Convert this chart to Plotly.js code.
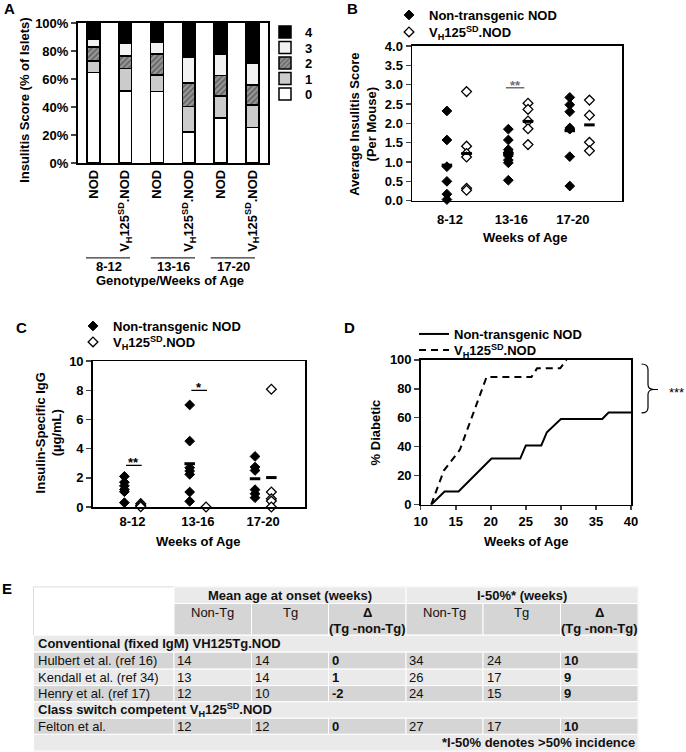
<!DOCTYPE html>
<html><head><meta charset="utf-8">
<script src="https://cdn.plot.ly/plotly-3.0.1.min.js"></script>
<style>html,body{margin:0;padding:0;background:#fff}#chart{width:686px;height:752px}</style>
</head><body><div id="chart"></div>
<script>
// ================= DATA =================
const ageGroups = ["8-12", "13-16", "17-20"];
const seriesNames = ["Non-transgenic NOD", "V<sub>H</sub>125<sup>SD</sup>.NOD"];

// Panel A: insulitis score distribution (% of islets), stacked 0..4
const aBarLabels = ["NOD", "V<sub>H</sub>125<sup>SD</sup>.NOD", "NOD", "V<sub>H</sub>125<sup>SD</sup>.NOD", "NOD", "V<sub>H</sub>125<sup>SD</sup>.NOD"];
const scoreNames = ["0", "1", "2", "3", "4"];
const score0 = [64.5, 51.3, 51.0, 22.3, 32.3, 25.3];
const score1 = [8.2, 16.2, 12.0, 18.2, 15.7, 16.0];
const score2 = [10.0, 8.8, 15.0, 16.8, 14.6, 14.5];
const score3 = [6.0, 9.0, 7.9, 17.9, 14.8, 15.1];
const score4 = [11.3, 14.7, 14.1, 24.8, 22.6, 29.1];

// Panel B: average insulitis score per mouse
const bNonTg = [[2.32, 1.57, 0.88, 0.50, 0.17, 0.03],
                [1.85, 1.57, 1.32, 1.25, 1.16, 1.05, 0.98, 0.53],
                [2.67, 2.48, 2.30, 1.88, 1.85, 1.14, 0.38]];
const bVH    = [[2.82, 1.41, 1.22, 1.13, 0.32, 0.27],
                [2.52, 2.36, 2.06, 1.86, 1.45],
                [2.60, 2.21, 1.51, 1.29]];
const bMeanNonTg = [0.92, 1.22, 1.81];
const bMeanVH    = [1.22, 2.05, 1.96];

// Panel C: insulin-specific IgG (ug/mL)
const cNonTg = [[2.10, 1.70, 1.45, 1.20, 1.05, 0.30],
                [7.00, 4.52, 2.69, 2.47, 2.24, 1.03, 0.39],
                [3.47, 2.74, 2.51, 1.19, 0.91, 0.64]];
const cVH    = [[0.23, 0.11, 0.02],
                [0.00],
                [8.08, 1.03, 0.57, 0.41, 0.00]];
const cMeanNonTg = [null, 2.97, 1.94];
const cMeanVH    = [null, null, 2.02];

// Panel D: cumulative % diabetic
const dWeeksNonTg = [11.5, 13.4, 15.4, 20.1, 24.2, 25.0, 27.2, 28.0, 30.0, 35.9, 36.8, 40.0];
const dPctNonTg   = [0, 9.1, 9.1, 31.8, 31.8, 40.9, 40.9, 50.0, 59.1, 59.1, 63.6, 63.6];
const dWeeksVH    = [11.5, 13.3, 15.6, 19.4, 25.8, 26.6, 29.9, 30.8];
const dPctVH      = [0, 23.5, 38.0, 88.2, 88.2, 94.1, 94.1, 100];

// Significance marks
const sigB = [{group: 2, y: 2.92, text: "**"}];
const sigC = [{group: 1, y: 2.85, text: "**"}, {group: 2, y: 8.0, text: "*"}];

// Panel E: table
const tGroupHeaders = ["Mean age at onset (weeks)", "I-50%* (weeks)"];
const tSubHeaders = ["Non-Tg", "Tg", "Δ", "Non-Tg", "Tg", "Δ"];
const tDeltaNote = "(Tg -non-Tg)";
const tSections = ["Conventional (fixed IgM) VH125Tg.NOD", "Class switch competent V<sub>H</sub>125<sup>SD</sup>.NOD"];
const studies     = ["Hulbert et al. (ref 16)", "Kendall et al. (ref 34)", "Henry et al. (ref 17)", "Felton et al."];
const onsetNonTg  = [14, 13, 12, 12];
const onsetTg     = [14, 14, 10, 12];
const onsetDelta  = [0, 1, -2, 0];
const i50NonTg    = [34, 26, 24, 27];
const i50Tg       = [24, 17, 15, 17];
const i50Delta    = [10, 9, 9, 10];
const tFootnote = "*I-50% denotes >50% incidence";

// ================= HELPERS =================
const W = 686, H = 752;
const FONT = "Liberation Sans, Arial, Helvetica, sans-serif";
const px = v => v / W;
const py = v => 1 - v / H;
const annotations = [];
const shapes = [];
function ann(text, x, y, o = {}) {
  annotations.push(Object.assign({
    text, x: px(x), y: py(y), xref: 'paper', yref: 'paper', showarrow: false,
    xanchor: 'center', yanchor: 'middle',
    font: {family: FONT, size: 13, color: '#000', weight: o.bold === false ? 'normal' : 'bold'}
  }, o.extra || {}));
}
const legends = {};
let legendCount = 0;
// one legend per entry so that each entry can sit exactly where the reference has it
function legendAt(symbolCenterX, centerY, off) {
  legendCount += 1;
  const key = legendCount === 1 ? 'legend' : 'legend' + legendCount;
  legends[key] = {x: px(symbolCenterX - 20), y: py(centerY - (off || 15)), xanchor: 'left', yanchor: 'top',
    bgcolor: 'rgba(0,0,0,0)', font: {family: FONT, size: 13, weight: 'bold', color: '#000'}, itemwidth: 30};
  return key;
}

// ================= TRACES =================
const traces = [];
const scoreColor = ['#ffffff', '#cbcbcb', '#8f8f8f', '#f2f2f2', '#000000'];
const aScores = [score0, score1, score2, score3, score4];
const aLegendY = [92, 76.5, 61, 45.5, 30];
aScores.forEach((vals, i) => {
  const marker = {color: scoreColor[i], line: {color: '#000', width: 1.5}};
  if (i === 2) marker.pattern = {shape: '/', fgcolor: '#5a5a5a', bgcolor: '#959595', size: 4, solidity: 0.35};
  traces.push({type: 'bar', x: aBarLabels.map((_, k) => k), y: vals, name: scoreNames[i],
    width: 0.4, marker, xaxis: 'x', yaxis: 'y', legend: legendAt(285, aLegendY[i], 13), hoverinfo: 'skip'});
});

function spread(groups, off) {
  const x = [], y = [];
  groups.forEach((g, gi) => g.forEach(v => { if (v !== null) { x.push(gi + 1 + off); y.push(v); } }));
  return {x, y};
}
function meanXY(means, off) {
  const x = [], y = [];
  means.forEach((m, gi) => { if (m !== null) { x.push(gi + 1 + off); y.push(m); } });
  return {x, y};
}
const filledDia = {symbol: 'diamond', size: 7.5, color: '#000', line: {color: '#000', width: 1}};
const openDia = {symbol: 'diamond', size: 7.5, color: '#fff', line: {color: '#000', width: 1.3}};
const meanMk = {symbol: 'line-ew', size: 7.5, color: '#000', line: {color: '#000', width: 3}};

// Panel B
const bOffN = -0.05, bOffV = 0.27;
let p = spread(bNonTg, bOffN);
traces.push({type: 'scatter', mode: 'markers', x: p.x, y: p.y, name: seriesNames[0], marker: filledDia, xaxis: 'x2', yaxis: 'y2', legend: legendAt(409, 13.5), cliponaxis: false});
p = spread(bVH, bOffV);
traces.push({type: 'scatter', mode: 'markers', x: p.x, y: p.y, name: seriesNames[1], marker: openDia, xaxis: 'x2', yaxis: 'y2', legend: legendAt(409, 32), cliponaxis: false});
p = meanXY(bMeanNonTg, bOffN);
traces.push({type: 'scatter', mode: 'markers', x: p.x, y: p.y, marker: meanMk, xaxis: 'x2', yaxis: 'y2', showlegend: false, cliponaxis: false});
p = meanXY(bMeanVH, bOffV);
traces.push({type: 'scatter', mode: 'markers', x: p.x, y: p.y, marker: meanMk, xaxis: 'x2', yaxis: 'y2', showlegend: false, cliponaxis: false});

// Panel C
const cOffN = -0.125, cOffV = 0.125;
p = spread(cNonTg, cOffN);
traces.push({type: 'scatter', mode: 'markers', x: p.x, y: p.y, name: seriesNames[0], marker: filledDia, xaxis: 'x3', yaxis: 'y3', legend: legendAt(93, 326), cliponaxis: false});
p = spread(cVH, cOffV);
traces.push({type: 'scatter', mode: 'markers', x: p.x, y: p.y, name: seriesNames[1], marker: openDia, xaxis: 'x3', yaxis: 'y3', legend: legendAt(93, 342), cliponaxis: false});
p = meanXY(cMeanNonTg, cOffN);
traces.push({type: 'scatter', mode: 'markers', x: p.x, y: p.y, marker: meanMk, xaxis: 'x3', yaxis: 'y3', showlegend: false, cliponaxis: false});
p = meanXY(cMeanVH, cOffV);
traces.push({type: 'scatter', mode: 'markers', x: p.x, y: p.y, marker: meanMk, xaxis: 'x3', yaxis: 'y3', showlegend: false, cliponaxis: false});

// Panel D
traces.push({type: 'scatter', mode: 'lines', x: dWeeksNonTg, y: dPctNonTg, name: seriesNames[0], line: {color: '#000', width: 2}, xaxis: 'x4', yaxis: 'y4', legend: legendAt(434, 334), cliponaxis: false});
traces.push({type: 'scatter', mode: 'lines', x: dWeeksVH, y: dPctVH, name: seriesNames[1], line: {color: '#000', width: 2, dash: '7px,5px'}, xaxis: 'x4', yaxis: 'y4', legend: legendAt(434, 350), cliponaxis: false});

// ================= AXES =================
const tickFont = {family: FONT, size: 13, color: '#000', weight: 'bold'};
function box(extra) {
  return Object.assign({showline: true, mirror: true, linecolor: '#000', linewidth: 1.5, showgrid: false, zeroline: false,
    tickfont: tickFont, fixedrange: true}, extra);
}
const layout = Object.assign({
  width: W, height: H, margin: {l: 0, r: 0, t: 0, b: 0},
  paper_bgcolor: '#fff', plot_bgcolor: '#fff', barmode: 'stack', bargap: 0,
  font: {family: FONT, color: '#000'}, hovermode: false,
  xaxis: box({domain: [px(77.5), px(268.3)], range: [-0.5, 5.5], tickvals: aBarLabels.map((_, k) => k), ticktext: aBarLabels, tickangle: -90, ticks: '', anchor: 'y'}),
  yaxis: box({domain: [py(162.3), py(22)], range: [0, 100], dtick: 20, ticksuffix: '%', ticks: 'outside', ticklen: 5, tickwidth: 1.5, anchor: 'x'}),
  xaxis2: box({domain: [px(412), px(622)], range: [0.382, 3.8], tickvals: [1, 2, 3], ticktext: ageGroups, ticks: '', ticklabelstandoff: 6, anchor: 'y2'}),
  yaxis2: box({domain: [py(200), py(45)], range: [0, 4], dtick: 0.5, tickformat: '.1f', ticks: 'outside', ticklen: 5, tickwidth: 1.5, anchor: 'x2'}),
  xaxis3: box({domain: [px(92.7), px(305)], range: [0.39, 3.64], tickvals: [1, 2, 3], ticktext: ageGroups, ticks: '', ticklabelstandoff: 2, anchor: 'y3'}),
  yaxis3: box({domain: [py(506.7), py(360.7)], range: [0, 10], dtick: 2, ticks: 'outside', ticklen: 5, tickwidth: 1.5, anchor: 'x3'}),
  xaxis4: box({domain: [px(420.7), px(631)], range: [10, 40], dtick: 5, ticks: 'outside', ticklen: 4, tickwidth: 1.5, anchor: 'y4'}),
  yaxis4: box({domain: [py(504.3), py(359.3)], range: [0, 100], dtick: 20, ticks: 'outside', ticklen: 5, tickwidth: 1.5, anchor: 'x4'}),
  annotations, shapes
}, legends);

// ================= ANNOTATIONS / SHAPES =================
const letterFont = {family: FONT, size: 15, weight: 'bold', color: '#000'};
ann('A', 9, 8, {extra: {font: letterFont}});
ann('B', 352, 8, {extra: {font: letterFont}});
ann('C', 21, 327, {extra: {font: letterFont}});
ann('D', 349, 327, {extra: {font: letterFont}});
ann('E', 7, 588, {extra: {font: letterFont}});

// Panel A titles & group labels
ann('Insulitis Score (% of Islets)', 25, 100, {extra: {textangle: -90}});
const aGroupSpans = [[86, 130], [150.7, 195], [210.7, 255]];
ageGroups.forEach((g, i) => {
  const [a, b] = aGroupSpans[i];
  shapes.push({type: 'line', xref: 'paper', yref: 'paper', x0: px(a), x1: px(b), y0: py(257.3), y1: py(257.3), line: {color: '#333', width: 1.2}});
  ann(g, (a + b) / 2 + 0.5, 265.5, {extra: {height: 13}});
});
ann('Genotype/Weeks of Age', 170, 280, {extra: {height: 13}});

// Panel B titles
ann('Average Insulitis Score<br>(Per Mouse)', 363, 124, {extra: {textangle: -90}});
ann('Weeks of Age', 525, 237);
// Panel C titles
ann('Insulin-Specific IgG<br>(µg/mL)', 49, 433, {extra: {textangle: -90}});
ann('Weeks of Age', 198, 541);
// Panel D titles
ann('% Diabetic', 375, 432, {extra: {textangle: -90}});
ann('Weeks of Age', 526, 541);

// significance bars
function sig(list, xa, ya, dx0, dx1, color) {
  list.forEach(s => {
    shapes.push({type: 'line', xref: xa, yref: ya, x0: s.group + dx0, x1: s.group + dx1, y0: s.y, y1: s.y, line: {color, width: 1.3}});
    annotations.push({text: s.text, xref: xa, yref: ya, x: s.group + (dx0 + dx1) / 2, y: s.y, yanchor: 'bottom', yshift: -7, showarrow: false,
      font: {family: FONT, size: 13, weight: 'bold', color}});
  });
}
sig(sigB, 'x2', 'y2', -0.09, 0.21, '#707070');
sig(sigC, 'x3', 'y3', -0.1, 0.14, '#000');

// D bracket + ***
shapes.push({type: 'path', xref: 'paper', yref: 'paper', line: {color: '#000', width: 1.2},
  path: `M ${px(641.5)},${py(363.5)} Q ${px(648)},${py(363.5)} ${px(648)},${py(369)} L ${px(648)},${py(384)} Q ${px(648)},${py(389)} ${px(654)},${py(389)} L ${px(658)},${py(389)} M ${px(654)},${py(389)} Q ${px(648)},${py(389)} ${px(648)},${py(394)} L ${px(648)},${py(407)} Q ${px(648)},${py(412.5)} ${px(641.5)},${py(412.5)}`});
ann('***', 676.5, 392, {extra: {font: {family: FONT, size: 13, weight: 'normal', color: '#000'}}});

// ================= TABLE (E) =================
const tCols = [33.5, 174, 251.5, 328.5, 406, 483, 560.5, 638];
const tRows = [586.7, 603.3, 635, 652, 669, 685.5, 701.7, 718, 734.3, 751];
const LIGHT = '#eaeaea', DARK = '#d5d5d5';
function cell(c0, c1, r, fill) {
  shapes.push({type: 'rect', xref: 'paper', yref: 'paper', x0: px(tCols[c0]), x1: px(tCols[c1]), y0: py(tRows[r + 1]), y1: py(tRows[r]),
    fillcolor: fill, line: {color: '#ffffff', width: 1}, layer: 'below'});
}
shapes.push({type: 'rect', xref: 'paper', yref: 'paper', x0: px(tCols[0]), x1: px(tCols[7]), y0: py(tRows[9]), y1: py(tRows[0]), fillcolor: '#fff', line: {color: '#dddddd', width: 1}, layer: 'below'});
cell(1, 4, 0, LIGHT); cell(4, 7, 0, LIGHT);
for (let c = 1; c < 7; c++) cell(c, c + 1, 1, DARK);
cell(0, 7, 2, LIGHT);
const studyRows = [3, 4, 5, 7];
studyRows.forEach((r, i) => { const f = (i === 1) ? LIGHT : DARK; for (let c = 0; c < 7; c++) cell(c, c + 1, r, f); });
cell(0, 7, 6, LIGHT);
cell(0, 7, 8, LIGHT);

const rowMid = r => (tRows[r] + tRows[r + 1]) / 2;
const tFont = (bold) => ({family: FONT, size: 13, color: '#111', weight: bold ? 'bold' : 'normal'});
function tText(text, x, y, anchor, bold) {
  annotations.push({text: String(text), xref: 'paper', yref: 'paper', x: px(x), y: py(y), xanchor: anchor, yanchor: 'middle', showarrow: false, font: tFont(bold)});
}
tText(tGroupHeaders[0], (tCols[1] + tCols[4]) / 2, rowMid(0), 'center', true);
tText(tGroupHeaders[1], (tCols[4] + tCols[7]) / 2, rowMid(0), 'center', true);
tSubHeaders.forEach((h, i) => {
  const cx = (tCols[i + 1] + tCols[i + 2]) / 2;
  const isDelta = (i % 3 === 2);
  tText(h, cx, 612.8, 'center', isDelta);
  if (isDelta) tText(tDeltaNote, cx, 628.5, 'center', true);
});
tText(tSections[0], tCols[0] + 2, rowMid(2), 'left', true);
tText(tSections[1], tCols[0] + 2, rowMid(6), 'left', true);
studies.forEach((s, i) => {
  const r = studyRows[i], y = rowMid(r);
  tText(s, tCols[0] + 2, y, 'left', false);
  const vals = [onsetNonTg[i], onsetTg[i], onsetDelta[i], i50NonTg[i], i50Tg[i], i50Delta[i]];
  vals.forEach((v, k) => tText(v, tCols[k + 1] + 1.5, y, 'left', k % 3 === 2));
});
tText(tFootnote, tCols[7] - 1.5, rowMid(8), 'right', true);

Plotly.newPlot('chart', traces, layout, {staticPlot: true, displayModeBar: false});
</script>
</body></html>
